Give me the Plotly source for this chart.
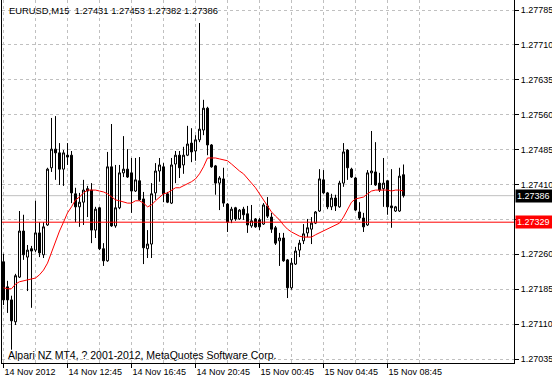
import plotly.graph_objects as go

# EURUSD M15 candles, values in points (1e-5)
open_pts = [127244,127190,127162,127115,127211,127310,127254,127272,127269,127306,
            127259,127323,127446,127486,127478,127443,127473,127473,127390,127362,
            127372,127401,127398,127312,127360,127272,127246,127448,127321,127360,
            127435,127443,127435,127396,127418,127379,127272,127282,127392,127439,
            127448,127390,127370,127454,127473,127452,127473,127499,127482,127506,
            127527,127574,127495,127450,127413,127422,127368,127334,127360,127336,
            127357,127347,127321,127336,127334,127325,127364,127340,127317,127289,
            127295,127248,127188,127239,127269,127289,127306,127314,127327,127353,
            127420,127392,127362,127381,127362,127413,127484,127443,127424,127351,
            127338,127323,127435,127437,127413,127401,127418,127364,127353,127353,
            127431]
high_pts = [127261,127203,127171,127218,127353,127345,127280,127278,127375,127329,
            127329,127446,127553,127557,127499,127484,127499,127482,127403,127392,
            127420,127407,127413,127362,127362,127284,127480,127540,127452,127452,
            127514,127486,127467,127467,127469,127394,127312,127413,127456,127467,
            127456,127394,127467,127482,127482,127491,127536,127531,127516,127757,
            127592,127577,127497,127452,127428,127446,127370,127362,127362,127357,
            127362,127364,127366,127338,127338,127370,127383,127349,127321,127306,
            127306,127250,127252,127276,127291,127325,127336,127340,127353,127443,
            127441,127394,127390,127388,127418,127499,127486,127446,127426,127372,
            127349,127441,127525,127501,127435,127467,127420,127443,127364,127446,
            127453]
low_pts = [127151,127134,127055,127108,127209,127248,127181,127145,127265,127254,
           127252,127321,127437,127420,127409,127407,127452,127370,127329,127319,
           127323,127340,127284,127295,127269,127235,127244,127319,127317,127357,
           127426,127424,127349,127394,127375,127239,127252,127252,127377,127416,
           127372,127370,127368,127413,127424,127433,127471,127458,127461,127501,
           127516,127473,127446,127388,127355,127362,127308,127327,127332,127334,
           127334,127306,127317,127317,127312,127323,127338,127306,127280,127235,
           127244,127166,127184,127237,127254,127282,127297,127282,127325,127351,
           127390,127357,127355,127353,127360,127405,127420,127424,127353,127334,
           127308,127321,127409,127407,127394,127362,127345,127317,127351,127351,
           127382]
close_pts = [127162,127162,127117,127214,127310,127259,127269,127267,127306,127263,
             127319,127443,127486,127478,127443,127478,127469,127392,127362,127372,
             127398,127396,127312,127357,127272,127246,127448,127321,127360,127435,
             127443,127426,127396,127420,127377,127274,127282,127390,127439,127452,
             127390,127372,127452,127473,127446,127473,127497,127480,127506,127529,
             127574,127495,127448,127413,127424,127370,127329,127357,127336,127355,
             127345,127323,127332,127319,127319,127366,127342,127314,127284,127295,
             127246,127188,127241,127267,127284,127304,127317,127327,127351,127422,
             127392,127362,127381,127364,127413,127480,127446,127426,127355,127338,
             127319,127435,127439,127409,127398,127413,127362,127360,127362,127428,
             127386]
ma_pts = [127188,127186,127186,127196,127201,127203,127205,127207,127209,127216,
          127226,127241,127265,127289,127310,127329,127349,127362,127377,127383,
          127392,127398,127398,127398,127396,127394,127390,127383,127377,127375,
          127372,127370,127370,127375,127375,127370,127362,127366,127375,127383,
          127390,127392,127398,127403,127403,127407,127411,127416,127422,127433,
          127448,127467,127467,127467,127465,127463,127461,127454,127446,127439,
          127433,127424,127413,127403,127390,127377,127362,127351,127342,127334,
          127323,127314,127308,127304,127299,127297,127297,127297,127302,127306,
          127310,127314,127319,127323,127327,127340,127357,127372,127379,127381,
          127383,127390,127396,127398,127398,127398,127398,127396,127398,127398,
          127396]
tick_labels = ["14 Nov 2012", "14 Nov 12:45", "14 Nov 16:45", "14 Nov 20:45",
               "15 Nov 00:45", "15 Nov 04:45", "15 Nov 08:45"]
price_ticks = [1.27035, 1.27110, 1.27185, 1.27260, 1.27335, 1.27410,
               1.27485, 1.27560, 1.27635, 1.27710, 1.27785]
bid_price = 1.27386
level_price = 1.27329
symbol = "EURUSD,M15"
copyright_text = "Alpari NZ MT4, ? 2001-2012, MetaQuotes Software Corp."

pt = 1e-5
o = [v * pt for v in open_pts]
h = [v * pt for v in high_pts]
l = [v * pt for v in low_pts]
c = [v * pt for v in close_pts]
ma = [v * pt for v in ma_pts]
x = list(range(len(o)))

label_step = 16
grid_step = 8
major = [i * label_step for i in range(len(tick_labels))]
minor = [m + grid_step for m in major]

GRID = "#c0c0c0"
FONT = "Liberation Sans"

fig = go.Figure()
fig.add_trace(go.Candlestick(
    x=x, open=o, high=h, low=l, close=c,
    increasing=dict(line=dict(color="black", width=1), fillcolor="white"),
    decreasing=dict(line=dict(color="black", width=1), fillcolor="black"),
    whiskerwidth=0, showlegend=False, hoverinfo="skip"))
fig.add_trace(go.Scatter(x=x, y=ma, mode="lines",
                         line=dict(color="red", width=1),
                         showlegend=False, hoverinfo="skip"))

fig.add_shape(type="line", xref="paper", x0=0, x1=1, yref="y",
              y0=bid_price, y1=bid_price, line=dict(color="#c0c0c0", width=1),
              layer="below")
fig.add_shape(type="line", xref="paper", x0=0, x1=1, yref="y",
              y0=level_price, y1=level_price, line=dict(color="red", width=1),
              layer="above")

header = (f"{symbol}&nbsp; {o[-1]:.5f} {h[-1]:.5f} {l[-1]:.5f} {c[-1]:.5f}")
fig.add_annotation(text=header, xref="paper", yref="paper",
                   x=5 / 512, y=1 - 10 / 363, xanchor="left", yanchor="middle",
                   showarrow=False, font=dict(family=FONT, size=9.4, color="black"))
fig.add_annotation(text=copyright_text, xref="paper", yref="paper",
                   x=4 / 512, y=1 - 355 / 363, xanchor="left", yanchor="middle",
                   showarrow=False, font=dict(family=FONT, size=10.5, color="black"))
for val, bg in [(bid_price, "black"), (level_price, "#ff0000")]:
    fig.add_annotation(text=f"{val:.5f}", xref="paper", yref="y", x=1, y=val,
                       xanchor="left", yanchor="middle", xshift=1,
                       showarrow=False, bgcolor=bg, width=35, height=10,
                       align="left", borderpad=1,
                       font=dict(family=FONT, size=9, color="white"))

fig.update_layout(
    width=552, height=380,
    margin=dict(l=2, r=38, t=0, b=17, autoexpand=False),
    paper_bgcolor="white", plot_bgcolor="white",
    boxgap=0.5, boxgroupgap=0,
    font=dict(family=FONT, size=9, color="black"),
    xaxis=dict(range=[-0.375, 127.625], rangeslider=dict(visible=False),
               tickmode="array", tickvals=major, ticktext=tick_labels,
               ticks="outside", ticklen=4, tickcolor="black", tickwidth=1,
               ticklabelposition="outside right",
               showline=True, linecolor="black", linewidth=1,
               showgrid=True, gridcolor=GRID, griddash="3px,3px", gridwidth=1,
               zeroline=False, automargin=False,
               minor=dict(tickmode="array", tickvals=minor, showgrid=True,
                          gridcolor=GRID, griddash="3px,3px", ticks="")),
    yaxis=dict(side="right", range=[1.270264, 1.278065],
               tickmode="array", tickvals=price_ticks,
               ticktext=["" if abs(v - 1.27335) < 1e-7 else f"{v:.5f}" for v in price_ticks],
               ticks="outside", ticklen=4, tickcolor="black",
               showline=True, mirror=True, linecolor="black", linewidth=1,
               showgrid=True, gridcolor=GRID, griddash="3px,3px", gridwidth=1,
               zeroline=False, automargin=False),
)

fig.write_html("out.html")
